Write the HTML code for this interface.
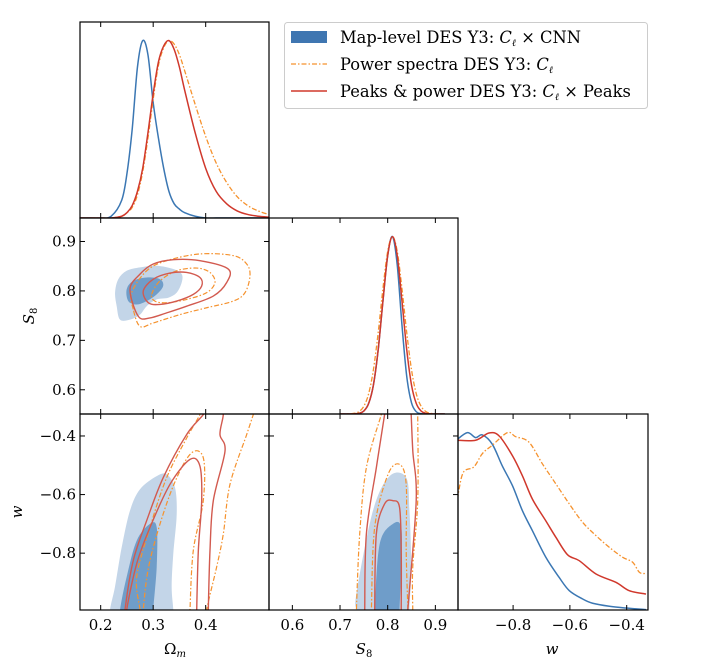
<!DOCTYPE html>
<html><head><meta charset="utf-8"><style>
html,body{margin:0;padding:0;background:#fff;}
svg{display:block;}
text{font-family:"DejaVu Serif","Liberation Serif",serif;fill:#000;}
</style></head><body>
<svg id="chart" width="712" height="672" viewBox="0 0 712 672" xmlns="http://www.w3.org/2000/svg">
<defs>
<clipPath id="c00"><rect x="80" y="22" width="189" height="196"/></clipPath>
<clipPath id="c10"><rect x="80" y="218" width="189" height="196"/></clipPath>
<clipPath id="c11"><rect x="269" y="218" width="189" height="196"/></clipPath>
<clipPath id="c20"><rect x="80" y="414" width="189" height="196"/></clipPath>
<clipPath id="c21"><rect x="269" y="414" width="189" height="196"/></clipPath>
<clipPath id="c22"><rect x="458" y="414" width="190" height="196"/></clipPath>
</defs>
<g id="marks"></g>
<g id="frames"></g>
<g>
<rect x="284.5" y="22.5" width="363" height="86" rx="3" fill="#fff" stroke="#ccc"/>
<rect x="291" y="31" width="36" height="12" fill="#3f76b1"/>
<text x="340" y="43" font-size="16.3">Map-level DES Y3: <tspan font-style="italic">C</tspan><tspan font-size="10" font-style="italic" dy="3">ℓ</tspan><tspan dy="-3"> × CNN</tspan></text>
<line x1="291" y1="64" x2="327" y2="64" stroke="#f5922e" stroke-width="1.3" stroke-dasharray="5,2,1.5,2"/>
<text x="340" y="70" font-size="16.3">Power spectra DES Y3: <tspan font-style="italic">C</tspan><tspan font-size="10" font-style="italic" dy="3">ℓ</tspan></text>
<line x1="291" y1="91" x2="327" y2="91" stroke="#d0382c" stroke-width="1.5"/>
<text x="340" y="97" font-size="16.3">Peaks &amp; power DES Y3: <tspan font-style="italic">C</tspan><tspan font-size="10" font-style="italic" dy="3">ℓ</tspan><tspan dy="-3"> × Peaks</tspan></text>
</g>
</svg>
<script>
// ---------- data ----------
const omGrid = [0.16,0.18,0.20,0.22,0.24,0.25,0.26,0.27,0.28,0.29,0.30,0.31,0.32,0.33,0.34,0.35,0.36,0.38,0.40,0.42,0.44,0.46,0.48,0.50,0.52];
const omBlue = [0,0,0,0.01,0.1,0.25,0.5,0.85,1.0,0.92,0.65,0.45,0.28,0.15,0.08,0.05,0.03,0.01,0,0,0,0,0,0,0];
const omRed = [0,0,0,0,0.01,0.03,0.07,0.15,0.28,0.48,0.70,0.88,0.97,1.0,0.95,0.85,0.72,0.48,0.28,0.15,0.08,0.04,0.02,0.01,0.005];
const omOrange = [0,0,0,0,0.01,0.03,0.06,0.13,0.26,0.45,0.67,0.86,0.96,1.0,0.98,0.92,0.83,0.64,0.46,0.31,0.2,0.12,0.07,0.04,0.02];

const s8Grid = [0.70,0.71,0.72,0.73,0.74,0.75,0.76,0.77,0.78,0.79,0.80,0.81,0.82,0.83,0.84,0.85,0.86,0.87,0.88,0.89,0.90,0.91,0.92];
const s8Blue = [0,0,0,.001,.004,.017,.059,.163,.361,.636,.893,1,.841,.5,.211,.063,.013,.002,0,0,0,0,0];
const s8Red = [0,0,0,.001,.004,.017,.059,.163,.361,.636,.893,1,.893,.636,.361,.163,.059,.017,.004,.001,0,0,0];
const s8Orange = [0,0,.001,.004,.014,.044,.114,.249,.458,.706,.917,1,.917,.706,.458,.249,.114,.044,.014,.004,.001,0,0];

const wBlueX = [-1,-0.961,-0.932,-0.908,-0.873,-0.838,-0.802,-0.767,-0.732,-0.685,-0.638,-0.602,-0.555,-0.52,-0.461,-0.402,-0.332];
const wBlueY = [0.957,1.0,0.972,0.987,0.934,0.812,0.7,0.559,0.447,0.298,0.184,0.109,0.062,0.038,0.021,0.011,0.002];
const wRedX = [-1,-0.932,-0.885,-0.849,-0.802,-0.767,-0.732,-0.685,-0.649,-0.608,-0.567,-0.508,-0.438,-0.391,-0.332];
const wRedY = [0.957,0.957,0.998,0.981,0.869,0.756,0.625,0.503,0.409,0.311,0.278,0.203,0.156,0.109,0.09];
const wOrangeX = [-1,-0.991,-0.974,-0.938,-0.908,-0.873,-0.82,-0.791,-0.744,-0.696,-0.649,-0.602,-0.555,-0.508,-0.461,-0.414,-0.379,-0.355,-0.332];
const wOrangeY = [0.563,0.675,0.779,0.807,0.882,0.929,1.0,0.977,0.946,0.822,0.71,0.598,0.494,0.419,0.353,0.297,0.269,0.212,0.206];

// Omega_m - S8 contours
const osBlue2X = [0.2335,0.2495,0.2749,0.3067,0.3383,0.3543,0.3543,0.3448,0.3288,0.3067,0.2876,0.2749,0.2558,0.2368,0.2305,0.2274];
const osBlue2Y = [0.8237,0.8407,0.8476,0.8509,0.8442,0.834,0.817,0.7965,0.7863,0.7828,0.7691,0.7521,0.7419,0.7419,0.7691,0.7965];
const osBlue1X = [0.2495,0.262,0.2876,0.313,0.319,0.3067,0.2876,0.2686,0.2526];
const osBlue1Y = [0.8033,0.8203,0.8272,0.8237,0.81,0.793,0.7794,0.7726,0.7794];
const osRed2X = [0.2558,0.2749,0.3002,0.3383,0.3891,0.443,0.44,0.4145,0.3638,0.3257,0.2939,0.2716];
const osRed2Y = [0.8033,0.8339,0.8544,0.8632,0.8611,0.8442,0.817,0.7896,0.7691,0.7556,0.7454,0.7487];
const osRed1X = [0.2811,0.3002,0.332,0.3638,0.3891,0.3924,0.3764,0.3448,0.313,0.2907];
const osRed1Y = [0.7998,0.8237,0.836,0.8374,0.8272,0.81,0.793,0.7794,0.7726,0.7761];
const osOrange2X = [0.2621,0.259,0.2876,0.3257,0.3891,0.4526,0.4781,0.4844,0.4749,0.4526,0.4019,0.351,0.3002,0.2749];
const osOrange2Y = [0.7624,0.7965,0.8407,0.8611,0.8748,0.8714,0.8544,0.8305,0.7965,0.7794,0.7659,0.7521,0.7352,0.7282];
const osOrange1X = [0.2971,0.313,0.3448,0.3829,0.4082,0.4177,0.4019,0.3638,0.3257,0.3034];
const osOrange1Y = [0.793,0.8203,0.8407,0.8462,0.8374,0.817,0.7965,0.7828,0.7761,0.7794];

// Omega_m - w contours
const owBlue2X = [0.2177,0.2177,0.2272,0.24,0.2558,0.2749,0.3067,0.3257,0.3415,0.3448,0.3383,0.3352,0.3383,0.3383];
const owBlue2Y = [-1.05,-0.994,-0.915,-0.78,-0.655,-0.582,-0.537,-0.531,-0.576,-0.667,-0.802,-0.915,-0.994,-1.05];
const owBlue1X = [0.2368,0.2368,0.2495,0.2686,0.2939,0.3067,0.3067,0.3002,0.3002];
const owBlue1Y = [-1.05,-0.994,-0.881,-0.757,-0.7,-0.712,-0.847,-0.994,-1.05];
const owRed2X = [0.2463,0.2463,0.2621,0.2876,0.3192,0.3638,0.3954,0.41,0.43,0.4335,0.4272,0.4368,0.4145,0.4082,0.405,0.405];
const owRed2Y = [-1.05,-0.994,-0.825,-0.689,-0.542,-0.395,-0.327,-0.28,-0.28,-0.327,-0.395,-0.452,-0.621,-0.791,-0.994,-1.05];
const owRed1X = [0.2495,0.2495,0.2686,0.2939,0.332,0.3701,0.3891,0.3924,0.386,0.3829,0.3829];
const owRed1Y = [-1.05,-0.994,-0.836,-0.712,-0.565,-0.48,-0.503,-0.621,-0.791,-0.994,-1.05];
const owOrange2X = [0.2749,0.2749,0.2686,0.2939,0.3257,0.3638,0.3891,0.40,0.50,0.4907,0.4781,0.4463,0.4336,0.4209,0.4019,0.4019];
const owOrange2Y = [-1.05,-0.994,-0.881,-0.712,-0.542,-0.407,-0.327,-0.28,-0.28,-0.327,-0.395,-0.565,-0.734,-0.847,-0.994,-1.05];
const owOrange1X = [0.2811,0.2811,0.2939,0.332,0.3701,0.3954,0.3954,0.3764,0.3701,0.3701];
const owOrange1Y = [-1.05,-0.994,-0.825,-0.599,-0.463,-0.474,-0.621,-0.791,-0.994,-1.05];

// S8 - w contours
const swBlue2X = [0.7344,0.7344,0.7344,0.7691,0.804,0.8388,0.8457,0.8493,0.8457,0.8457];
const swBlue2Y = [-1.05,-0.994,-0.938,-0.655,-0.537,-0.542,-0.655,-0.847,-0.994,-1.05];
const swBlue1X = [0.7727,0.7727,0.7831,0.8109,0.8284,0.8284,0.8249,0.8249];
const swBlue1Y = [-1.05,-0.994,-0.769,-0.7,-0.712,-0.847,-0.994,-1.05];
const swRed2X = [0.7518,0.7518,0.7553,0.7762,0.7935,0.80,0.848,0.8493,0.8527,0.8598,0.8423,0.8423];
const swRed2Y = [-1.05,-0.994,-0.734,-0.508,-0.327,-0.28,-0.28,-0.327,-0.452,-0.621,-0.994,-1.05];
const swRed1X = [0.7727,0.7727,0.7762,0.7935,0.8109,0.8249,0.8284,0.8284,0.8284];
const swRed1Y = [-1.05,-0.994,-0.734,-0.632,-0.621,-0.644,-0.791,-0.994,-1.05];
const swOrange2X = [0.7344,0.7344,0.7413,0.7553,0.7866,0.795,0.862,0.863,0.863,0.8526,0.8526,0.8526];
const swOrange2Y = [-1.05,-0.994,-0.734,-0.508,-0.327,-0.28,-0.28,-0.327,-0.621,-0.847,-0.994,-1.05];
const swOrange1X = [0.7658,0.7658,0.7727,0.8005,0.8249,0.8388,0.8388,0.8423,0.8423];
const swOrange1Y = [-1.05,-0.994,-0.712,-0.532,-0.497,-0.565,-0.791,-0.994,-1.05];

const omTicks = [0.2,0.3,0.4];
const omTickLabels = ["0.2","0.3","0.4"];
const s8Ticks = [0.6,0.7,0.8,0.9];
const s8TickLabels = ["0.6","0.7","0.8","0.9"];
const wTicks = [-0.8,-0.6,-0.4];
const wTickLabels = ["\u22120.8","\u22120.6","\u22120.4"];

// ---------- axes ----------
const NS = "http://www.w3.org/2000/svg";
const col = [[80,269],[269,458],[458,648]];
const row = [[22,218],[218,414],[414,610]];
const omR = [0.1606,0.5206], s8R = [0.551,0.9475], wR = [-0.994,-0.325];
function lin(d, r){ return v => r[0] + (v-d[0])/(d[1]-d[0])*(r[1]-r[0]); }
const xOm = lin(omR, col[0]), xS8 = lin(s8R, col[1]), xW = lin(wR, col[2]);
const yS8 = lin(s8R, [row[1][1], row[1][0]]);
const yW = lin(wR, [row[2][1], row[2][0]]);
const yD = r => v => r[1] - v*0.905*(r[1]-r[0]);

const marks = document.getElementById('marks');
const frames = document.getElementById('frames');
function mk(tag, attrs, parent){ const e=document.createElementNS(NS,tag); for(const k in attrs) e.setAttribute(k,attrs[k]); (parent||marks).appendChild(e); return e; }

function smoothPath(pts, closed){
  const n=pts.length; if(n<2) return '';
  let d='M'+pts[0][0].toFixed(2)+','+pts[0][1].toFixed(2);
  const get=i=> closed ? pts[(i+n)%n] : pts[Math.max(0,Math.min(n-1,i))];
  const segs = closed ? n : n-1;
  for(let i=0;i<segs;i++){
    const p0=get(i-1),p1=get(i),p2=get(i+1),p3=get(i+2);
    const c1=[p1[0]+(p2[0]-p0[0])/6, p1[1]+(p2[1]-p0[1])/6];
    const c2=[p2[0]-(p3[0]-p1[0])/6, p2[1]-(p3[1]-p1[1])/6];
    d+='C'+c1[0].toFixed(2)+','+c1[1].toFixed(2)+' '+c2[0].toFixed(2)+','+c2[1].toFixed(2)+' '+p2[0].toFixed(2)+','+p2[1].toFixed(2);
  }
  return closed? d+'Z' : d;
}

const BLUE='#3b77b3', RED='#d0382c', ORANGE='#f5922e';
const DASH='5,2,1.5,2';

function line1d(xs, ys, fx, fy, color, dashed, clip, name){
  const pts = xs.map((x,i)=>[fx(x), fy(ys[i])]);
  const g = mk('g',{'clip-path':'url(#'+clip+')'});
  const p = mk('path',{d:smoothPath(pts,false),fill:'none',stroke:color,'stroke-width':dashed?1.3:1.5},g);
  if(dashed) p.setAttribute('stroke-dasharray',DASH);
  
  
}
function contour(xs, ys, fx, fy, style, clip, name){
  const pts = xs.map((x,i)=>[fx(x), fy(ys[i])]);
  const g = mk('g',{'clip-path':'url(#'+clip+')'});
  const p = mk('path',{d:smoothPath(pts,true)},g);
  if(style==='fill2'){ p.setAttribute('fill','#c3d5e8'); p.setAttribute('stroke','none'); }
  else if(style==='fill1'){ p.setAttribute('fill','#6f9dc9'); p.setAttribute('stroke','none'); }
  else if(style==='red'){ p.setAttribute('fill','none'); p.setAttribute('stroke','#d25a4f'); p.setAttribute('stroke-width','1.4'); }
  else { p.setAttribute('fill','none'); p.setAttribute('stroke',ORANGE); p.setAttribute('stroke-width','1.2'); p.setAttribute('stroke-dasharray',DASH); }
  
  
}

// 1D marginals
const yD0=yD(row[0]), yD1=yD(row[1]), yD2=yD(row[2]);
line1d(omGrid, omBlue, xOm, yD0, BLUE, false, 'c00', 'omega-m-marginal-map-level');
line1d(omGrid, omOrange, xOm, yD0, ORANGE, true, 'c00', 'omega-m-marginal-power-spectra');
line1d(omGrid, omRed, xOm, yD0, RED, false, 'c00', 'omega-m-marginal-peaks-power');
line1d(s8Grid, s8Blue, xS8, yD1, BLUE, false, 'c11', 's8-marginal-map-level');
line1d(s8Grid, s8Orange, xS8, yD1, ORANGE, true, 'c11', 's8-marginal-power-spectra');
line1d(s8Grid, s8Red, xS8, yD1, RED, false, 'c11', 's8-marginal-peaks-power');
line1d(wBlueX, wBlueY, xW, yD2, BLUE, false, 'c22', 'w-marginal-map-level');
line1d(wOrangeX, wOrangeY, xW, yD2, ORANGE, true, 'c22', 'w-marginal-power-spectra');
line1d(wRedX, wRedY, xW, yD2, RED, false, 'c22', 'w-marginal-peaks-power');

// 2D contours
contour(osBlue2X, osBlue2Y, xOm, yS8, 'fill2', 'c10', 'omega-s8-map-level-2sigma');
contour(osBlue1X, osBlue1Y, xOm, yS8, 'fill1', 'c10', 'omega-s8-map-level-1sigma');
contour(osOrange2X, osOrange2Y, xOm, yS8, 'orange', 'c10', 'omega-s8-power-2sigma');
contour(osOrange1X, osOrange1Y, xOm, yS8, 'orange', 'c10', 'omega-s8-power-1sigma');
contour(osRed2X, osRed2Y, xOm, yS8, 'red', 'c10', 'omega-s8-peaks-2sigma');
contour(osRed1X, osRed1Y, xOm, yS8, 'red', 'c10', 'omega-s8-peaks-1sigma');

contour(owBlue2X, owBlue2Y, xOm, yW, 'fill2', 'c20', 'omega-w-map-level-2sigma');
contour(owBlue1X, owBlue1Y, xOm, yW, 'fill1', 'c20', 'omega-w-map-level-1sigma');
contour(owOrange2X, owOrange2Y, xOm, yW, 'orange', 'c20', 'omega-w-power-2sigma');
contour(owOrange1X, owOrange1Y, xOm, yW, 'orange', 'c20', 'omega-w-power-1sigma');
contour(owRed2X, owRed2Y, xOm, yW, 'red', 'c20', 'omega-w-peaks-2sigma');
contour(owRed1X, owRed1Y, xOm, yW, 'red', 'c20', 'omega-w-peaks-1sigma');

contour(swBlue2X, swBlue2Y, xS8, yW, 'fill2', 'c21', 's8-w-map-level-2sigma');
contour(swBlue1X, swBlue1Y, xS8, yW, 'fill1', 'c21', 's8-w-map-level-1sigma');
contour(swOrange2X, swOrange2Y, xS8, yW, 'orange', 'c21', 's8-w-power-2sigma');
contour(swOrange1X, swOrange1Y, xS8, yW, 'orange', 'c21', 's8-w-power-1sigma');
contour(swRed2X, swRed2Y, xS8, yW, 'red', 'c21', 's8-w-peaks-2sigma');
contour(swRed1X, swRed1Y, xS8, yW, 'red', 'c21', 's8-w-peaks-1sigma');

// frames and ticks
const panels = [
  {c:0,r:0,xt:omTicks,xf:xOm,yt:null,yf:null},
  {c:0,r:1,xt:omTicks,xf:xOm,yt:s8Ticks,yf:yS8},
  {c:1,r:1,xt:s8Ticks,xf:xS8,yt:null,yf:null},
  {c:0,r:2,xt:omTicks,xf:xOm,yt:wTicks,yf:yW},
  {c:1,r:2,xt:s8Ticks,xf:xS8,yt:wTicks,yf:yW},
  {c:2,r:2,xt:wTicks,xf:xW,yt:null,yf:null}
];
panels.forEach(p=>{
  const [x0,x1]=col[p.c],[y0,y1]=row[p.r];
  const fr = mk('rect',{x:x0,y:y0,width:x1-x0,height:y1-y0,fill:'none',stroke:'#000','stroke-width':1.2},frames);
  
  
  p.xt.forEach(t=>{
    const x=p.xf(t);
    mk('line',{x1:x,y1:y1,x2:x,y2:y1-5,stroke:'#000','stroke-width':1},frames);
    mk('line',{x1:x,y1:y0,x2:x,y2:y0+5,stroke:'#000','stroke-width':1},frames);
  });
  if(p.yf){
    p.yt.forEach(t=>{
      const y=p.yf(t);
      mk('line',{x1:x0,y1:y,x2:x0+5,y2:y,stroke:'#000','stroke-width':1},frames);
      mk('line',{x1:x1,y1:y,x2:x1-5,y2:y,stroke:'#000','stroke-width':1},frames);
    });
  }
});

function tl(x,y,txt,anchor,name){
  const t=mk('text',{x:x,y:y,'font-size':15,'text-anchor':anchor},frames);
  t.textContent=txt;
  
  
}
omTicks.forEach((t,i)=>tl(xOm(t),630,omTickLabels[i],'middle','omega-m-tick-label'));
s8Ticks.forEach((t,i)=>tl(xS8(t),630,s8TickLabels[i],'middle','s8-x-tick-label'));
wTicks.forEach((t,i)=>tl(xW(t),630,wTickLabels[i],'middle','w-x-tick-label'));
s8Ticks.forEach((t,i)=>tl(76,yS8(t)+5,s8TickLabels[i],'end','s8-y-tick-label'));
wTicks.forEach((t,i)=>tl(76,yW(t)+5,wTickLabels[i],'end','w-y-tick-label'));

function axl(x,y,html,rot,name){
  const t=mk('text',{x:x,y:y,'font-size':15,'text-anchor':'middle','font-style':'italic'},frames);
  if(rot) t.setAttribute('transform','rotate(-90 '+x+' '+y+')');
  t.innerHTML=html;
  
  
}
axl(175,654,'<tspan font-style="normal">Ω</tspan><tspan font-size="10" dy="3">m</tspan>',false,'x-axis-title-omega-m');
axl(364,654,'S<tspan font-size="10" font-style="normal" dy="3">8</tspan>',false,'x-axis-title-s8');
axl(552,654,'w',false,'x-axis-title-w');
axl(34,316,'S<tspan font-size="10" font-style="normal" dy="3">8</tspan>',true,'y-axis-title-s8');
axl(22,512,'w',true,'y-axis-title-w');
</script>
</body></html>
